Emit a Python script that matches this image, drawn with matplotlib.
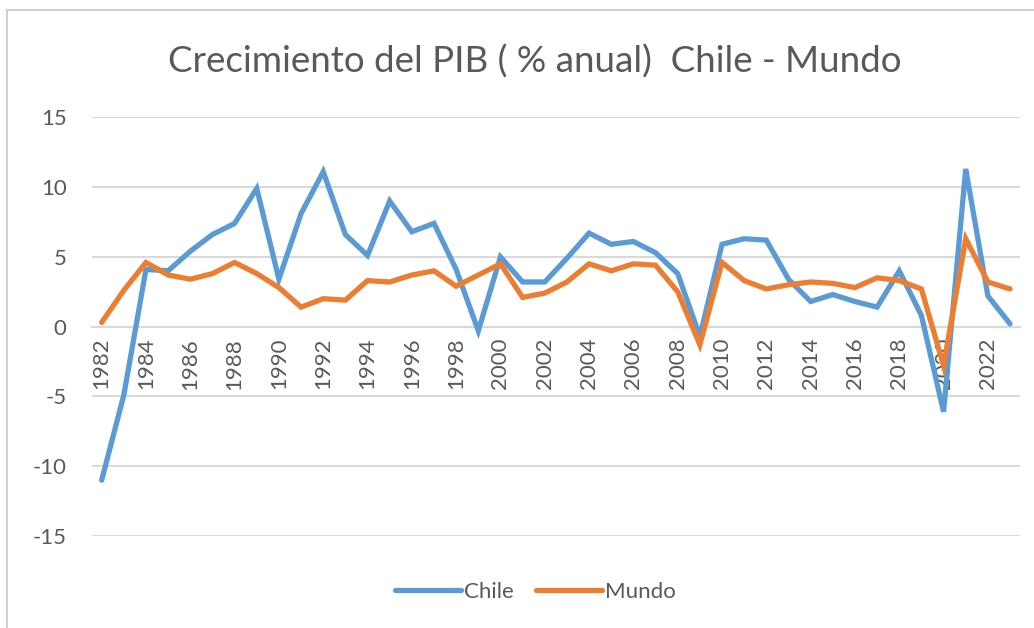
import numpy as np
import matplotlib
matplotlib.use("Agg")
import matplotlib.pyplot as plt
from matplotlib.patches import Rectangle

years = list(range(1982, 2024))

chile = [-11.0, -4.9, 4.1, 4.0, 5.4, 6.6, 7.4, 9.9, 3.4, 8.1,
         11.1, 6.6, 5.1, 9.0, 6.8, 7.4, 4.1, -0.3, 5.0, 3.2,
         3.2, 4.9, 6.7, 5.9, 6.1, 5.3, 3.8, -0.7, 5.9, 6.3,
         6.2, 3.4, 1.8, 2.3, 1.8, 1.4, 4.0, 0.8, -6.1, 11.3,
         2.2, 0.2]

mundo = [0.3, 2.6, 4.6, 3.7, 3.4, 3.8, 4.6, 3.8, 2.8, 1.4,
         2.0, 1.9, 3.3, 3.2, 3.7, 4.0, 2.9, 3.7, 4.5, 2.1,
         2.4, 3.2, 4.5, 4.0, 4.5, 4.4, 2.5, -1.3, 4.6, 3.3,
         2.7, 3.0, 3.2, 3.1, 2.8, 3.5, 3.3, 2.7, -2.8, 6.3,
         3.2, 2.7]

series_names = ["Chile", "Mundo"]
title = "Crecimiento del PIB ( % anual)  Chile - Mundo"
yticks = [-15, -10, -5, 0, 5, 10, 15]
xticks = years[::2]

plt.rcParams['font.family'] = ['Lato', 'DejaVu Sans']
plt.rcParams['axes.unicode_minus'] = False

W, H = 1034, 628
fig = plt.figure(figsize=(W / 100, H / 100), dpi=100)

# light chart-area border (top and left edges visible)
fig.patches.append(Rectangle((7 / W, -0.1), 1.2, 1 - 10 / H + 0.1,
                             transform=fig.transFigure, fill=False,
                             edgecolor='#d0d0d0', linewidth=1.5))

ax = fig.add_axes([91.7 / W, 1 - 536 / H, (1020 - 91.7) / W, (536 - 117.3) / H])

text_col = '#595959'
grid_col = '#d9d9d9'

ax.plot(years, chile, color='#5B9BD5', linewidth=3.8, label=series_names[0],
        solid_joinstyle='miter', solid_capstyle='round')
ax.plot(years, mundo, color='#ED7D31', linewidth=3.8, label=series_names[1],
        solid_joinstyle='miter', solid_capstyle='round')

ax.set_xlim(1981.55, 2023.45)
ax.set_ylim(-15, 15)

for s in ['top', 'right', 'left']:
    ax.spines[s].set_visible(False)
# x axis crosses at zero, like the Excel original
ax.spines['bottom'].set_position(('data', 0))
ax.spines['bottom'].set_color(grid_col)
ax.spines['bottom'].set_linewidth(1.5)
ax.spines['bottom'].set_zorder(0.5)

ax.set_yticks(yticks)
ax.set_xticks(xticks)
ax.set_xticklabels([str(y) for y in xticks])

ax.yaxis.grid(True, color=grid_col, linewidth=1.5)
ax.set_axisbelow(True)

ax.tick_params(axis='y', length=0, pad=18, labelsize=16, labelcolor=text_col)
ax.tick_params(axis='x', length=0, pad=8, labelsize=16, labelcolor=text_col,
               labelrotation=90)

fig.text(535 / W, 1 - 62 / H, title, ha='center', va='center',
         fontsize=26.5, color=text_col)

leg = fig.legend(loc='center', bbox_to_anchor=(535 / W, 1 - 592 / H), ncol=2,
                 frameon=False, fontsize=16, handlelength=3.0,
                 handletextpad=0.1, columnspacing=1.0, labelcolor=text_col)

fig.savefig("out.png", dpi=100)
